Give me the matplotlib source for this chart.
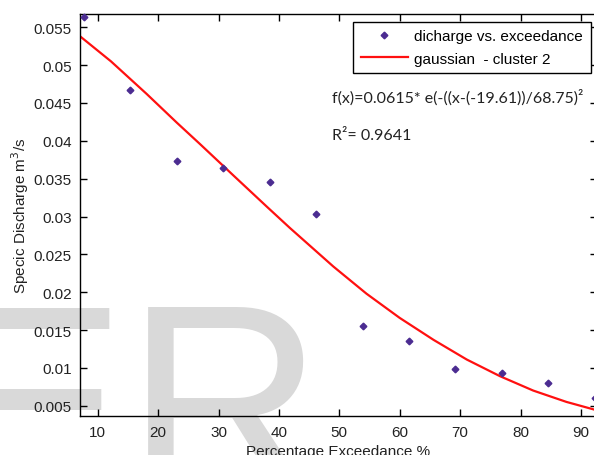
import matplotlib
matplotlib.use("Agg")
import matplotlib.pyplot as plt
from matplotlib.lines import Line2D

plt.rcParams["font.family"] = ["Liberation Sans", "DejaVu Sans"]

# measured points (percentage exceedance vs specific discharge)
exceedance = [7.69, 15.38, 23.08, 30.77, 38.46, 46.15, 53.85, 61.54, 69.23, 76.92, 84.62, 92.31]
discharge = [0.0563, 0.0467, 0.0373, 0.0364, 0.0345, 0.0303, 0.0155, 0.0135, 0.0098, 0.0093, 0.0080, 0.0060]

# fitted gaussian curve
curve_x = [7.1, 12.2, 18.1, 23.1, 26.9, 32.5, 38.0, 41.8, 49.0, 54.5, 60.0, 65.6, 71.1, 76.6, 82.1, 87.6, 92.6]
curve_y = [0.0538, 0.0505, 0.0462, 0.0424, 0.0396, 0.0354, 0.0313, 0.0285, 0.0234, 0.0198, 0.0166, 0.0137,
           0.0111, 0.0089, 0.0070, 0.0055, 0.0044]

yticks = [0.005, 0.01, 0.015, 0.02, 0.025, 0.03, 0.035, 0.04, 0.045, 0.05, 0.055]
ytick_labels = ["0.005", "0.01", "0.015", "0.02", "0.025", "0.03", "0.035", "0.04", "0.045", "0.05", "0.055"]
xticks = [10, 20, 30, 40, 50, 60, 70, 80, 90]

fig = plt.figure(figsize=(5.94, 4.56), dpi=100)
fig.patch.set_facecolor("white")

# watermark behind everything
fig.text(-0.0953, -0.0893, "ER", fontsize=197, color="#d9d9d9", ha="left", va="baseline",
         family="Liberation Sans", zorder=-1)

ax = fig.add_axes([0.1347, 0.0849, 0.8697, 0.8822])
ax.patch.set_alpha(0)

ax.plot(curve_x, curve_y, color="#ff1010", linewidth=1.6, zorder=2)
ax.plot(exceedance, discharge, linestyle="none", marker="D", markersize=3.4,
        color="#4b2c91", zorder=3, clip_on=False)

ax.set_xlim(7.07, 92.6)
ax.set_ylim(0.0036, 0.05676)
ax.set_xticks(xticks)
ax.set_yticks(yticks)
ax.set_yticklabels(ytick_labels)
ax.tick_params(direction="in", length=5, width=1, top=True, right=True,
               labelsize=11, labelcolor="#222222", pad=6)
for sp in ax.spines.values():
    sp.set_linewidth(1.0)

ax.set_xlabel("Percentage Exceedance %", fontsize=11, color="#222222", labelpad=4)
ax.set_ylabel("Specic Discharge m$^3$/s", fontsize=11, color="#222222", labelpad=2)

handles = [
    Line2D([], [], linestyle="none", marker="D", markersize=3.4, color="#4b2c91"),
    Line2D([], [], color="#ff1010", linewidth=1.6),
]
leg = ax.legend(handles, ["dicharge vs. exceedance", "gaussian  - cluster 2"],
                loc="upper left", bbox_to_anchor=(0.5285, 0.9809), borderaxespad=0,
                fontsize=11, handlelength=3.1, handletextpad=0.4, labelspacing=0.55,
                borderpad=0.5, fancybox=False, framealpha=1)
leg.get_frame().set_edgecolor("black")
leg.get_frame().set_linewidth(1.0)

fig.text(0.5584, 0.787, "f(x)=0.0615* e(-((x-(-19.61))/68.75)²", fontsize=11.5,
         family="Lato", color="#222222", va="center", ha="left")
fig.text(0.5584, 0.7018, "R²= 0.9641", fontsize=11.5, family="Lato",
         color="#222222", va="center", ha="left")

fig.savefig("out.png", dpi=100)
